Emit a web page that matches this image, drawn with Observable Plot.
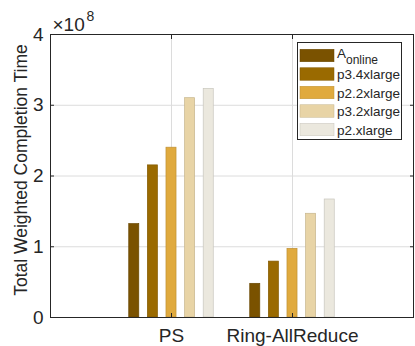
<!DOCTYPE html>
<html>
<head>
<meta charset="utf-8">
<script src="https://cdn.jsdelivr.net/npm/d3@7"></script>
<script src="https://cdn.jsdelivr.net/npm/@observablehq/plot@0.6"></script>
<style>
  html, body { margin: 0; padding: 0; background: #ffffff; }
  #chart svg { display: block; }
</style>
</head>
<body>
<div id="chart"></div>
<script>
// ---- data (values in units of 1e8) ----
const groups = ["PS", "Ring-AllReduce"];
const seriesNames = ["A_online", "p3.4xlarge", "p2.2xlarge", "p3.2xlarge", "p2.xlarge"];
const psValues = [1.32, 2.15, 2.40, 3.10, 3.23];
const ringValues = [0.476, 0.79, 0.97, 1.466, 1.668];
const seriesColors = ["#7a5200", "#9a6a00", "#e0aa3e", "#e8d4a6", "#ebe8de"];
const yTicks = [0, 1, 2, 3, 4];
const yLabel = "Total Weighted Completion Time";
const exponent = "8";

const groupValues = [psValues, ringValues];
const data = [];
groups.forEach((g, gi) => {
  seriesNames.forEach((s, si) => {
    data.push({group: g, gx: gi + 1, series: s, si, value: groupValues[gi][si]});
  });
});
const strokeColors = seriesColors.map(c => d3.color(c).darker(0.45).formatHex());

const nS = seriesNames.length;
const groupWidth = Math.min(0.8, nS / (nS + 1.5));
const step = groupWidth / nS;
const barW = 0.083;
const center = d => d.gx + (d.si - (nS - 1) / 2) * step;

const font = "'Liberation Sans', Arial, Helvetica, sans-serif";
const ink = "#262626";

const chart = Plot.plot({
  width: 415,
  height: 346,
  marginLeft: 50,
  marginRight: 2,
  marginTop: 34,
  marginBottom: 29,
  x: {domain: [0, 3]},
  y: {domain: [0, 4]},
  color: {type: "identity"},
  style: {fontFamily: font, fontSize: "18px", color: ink, background: "#ffffff"},
  marks: [
    Plot.gridY(yTicks, {stroke: "#dcdcdc", strokeOpacity: 1}),
    Plot.gridX([1, 2], {stroke: "#dcdcdc", strokeOpacity: 1}),
    Plot.rect(data, {
      x1: d => center(d) - barW / 2,
      x2: d => center(d) + barW / 2,
      y1: 0,
      y2: "value",
      fill: d => seriesColors[d.si],
      stroke: d => strokeColors[d.si],
      strokeWidth: 0.7
    }),
    // inward tick marks
    Plot.axisY(yTicks, {anchor: "left", tickSize: 4, dx: 4, tickFormat: () => "", label: null, stroke: ink}),
    Plot.axisY(yTicks, {anchor: "right", tickSize: 4, dx: -4, tickFormat: () => "", label: null, stroke: ink}),
    Plot.axisX([1, 2], {anchor: "bottom", tickSize: 4, dy: -4, tickFormat: () => "", label: null, stroke: ink}),
    Plot.axisX([1, 2], {anchor: "top", tickSize: 4, dy: 4, tickFormat: () => "", label: null, stroke: ink}),
    // tick labels
    Plot.axisY(yTicks, {anchor: "left", tickSize: 0, tickPadding: 7, label: null, fontSize: 19, fill: ink,
      tickFormat: d => String(d)}),
    Plot.axisX([1, 2], {anchor: "bottom", tickSize: 0, tickPadding: 11, label: null, fontSize: 19, fill: ink,
      tickFormat: d => groups[d - 1]}),
    Plot.frame({stroke: ink, strokeWidth: 1}),
    // y label
    Plot.text([yLabel], {frameAnchor: "left", rotate: -90, dx: -24, dy: -6,
      textAnchor: "middle", lineAnchor: "bottom", fontSize: 17.5, fill: ink}),
    // exponent label
    Plot.text(["×10"], {frameAnchor: "top-left", dx: 2, dy: -4, textAnchor: "start",
      lineAnchor: "bottom", fontSize: 19, fill: ink}),
    Plot.text([exponent], {frameAnchor: "top-left", dx: 36, dy: -14, textAnchor: "start",
      lineAnchor: "bottom", fontSize: 14, fill: ink})
  ]
});

// ---- legend (drawn into the same svg) ----
const svg = d3.select(chart);
const lg = svg.append("g").attr("font-family", font).attr("fill", ink).attr("text-anchor", "start");
const box = {x: 297, y: 42, w: 104, h: 97};
lg.append("rect").attr("x", box.x + 0.5).attr("y", box.y + 0.5).attr("width", box.w).attr("height", box.h)
  .attr("fill", "#ffffff").attr("stroke", ink).attr("stroke-width", 1);
seriesNames.forEach((s, i) => {
  const cy = 55.5 + i * 18.5;
  lg.append("rect").attr("x", 300).attr("y", cy - 6.25).attr("width", 34).attr("height", 12.5)
    .attr("fill", seriesColors[i]).attr("stroke", strokeColors[i]).attr("stroke-width", 0.5);
  const t = lg.append("text").attr("x", 337)
    .attr("font-size", 13.5).attr("text-anchor", "start");
  if (s.includes("_")) {
    const [base, sub] = s.split("_");
    t.attr("y", cy + 2.5);
    t.append("tspan").text(base);
    t.append("tspan").attr("font-size", 12).attr("dy", 5.5).text(sub);
  } else {
    t.attr("y", cy).attr("dy", "0.38em").text(s);
  }
});

document.getElementById("chart").appendChild(chart);
</script>
</body>
</html>
